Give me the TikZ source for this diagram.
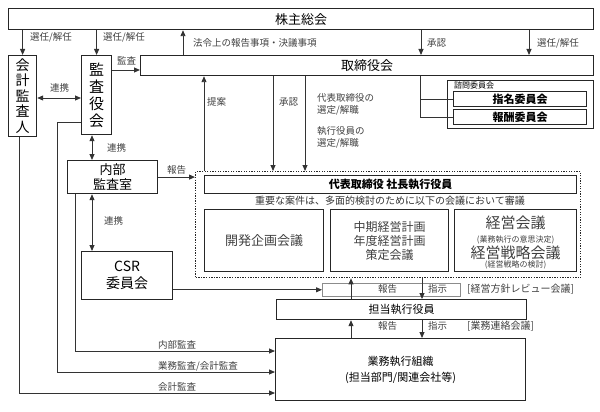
\documentclass[tikz,border=0pt]{standalone}
\usepackage{fontspec}
\setmainfont{Noto Sans CJK JP}
\usetikzlibrary{arrows.meta,calc}
\begin{document}
\begin{tikzpicture}[x=1pt,y=-1pt,
 box/.style={draw=black!85,line width=1.2pt,inner sep=0pt,anchor=north west,align=center},
 lbl/.style={text=black!75,font=\fontsize{9.5}{11}\selectfont,inner sep=0pt,anchor=west},
 arr/.style={draw=black!80,line width=0.9pt,-{Triangle[length=6pt,width=5pt]}},
 dbl/.style={draw=black!80,line width=0.9pt,{Triangle[length=6pt,width=5pt]}-{Triangle[length=6pt,width=5pt]}},
 ln/.style={draw=black!80,line width=0.9pt}]
\useasboundingbox (0,0) rectangle (600,412);
% helper coordinates
\foreach \n/\v in {19/19,57/57,75/75,92/92,183/183,204/204,273/273,305/305,351/351,420/420,421/421,422/422,529/529}{\coordinate (x\n) at (\v,0);}
\foreach \n/\v in {70/70,98/98,122/122,351/351,372/372,393/393}{\coordinate (y\n) at (0,\v);}
% boxes
\node[box,minimum width=585,minimum height=21,font=\fontsize{13}{14}\selectfont] (kabu) at (8,8) {株主総会};
\node[box,minimum width=28,minimum height=81,font=\fontsize{14}{15.5}\selectfont] (kaikei) at (8,55) {会\\計\\監\\査\\人};
\node[box,minimum width=30,minimum height=79,font=\fontsize{15}{17}\selectfont] (kansa) at (81,55) {監\\査\\役\\会};
\node[box,minimum width=453,minimum height=20,font=\fontsize{13}{14}\selectfont] (tori) at (140,55) {取締役会};
\node[box,line width=1pt,minimum width=146,minimum height=48] (shimon) at (447,80) {};
\node[anchor=west,inner sep=0pt,font=\fontsize{8}{9}\selectfont] (shimonl) at (454,85) {諮問委員会};
\node[box,minimum width=133,minimum height=15,font=\bfseries\fontsize{11}{12}\selectfont] (shimei) at (453,91) {指名委員会};
\node[box,minimum width=133,minimum height=15,font=\bfseries\fontsize{11}{12}\selectfont] (hoshu) at (453,109) {報酬委員会};
\node[box,minimum width=90,minimum height=33,font=\fontsize{13}{15}\selectfont] (naibu) at (67,160) {内部\\監査室};
\node[box,minimum width=91,minimum height=48,font=\fontsize{14}{17}\selectfont] (csr) at (81,251) {CSR\\委員会};
\node[box,draw=black!85,line width=1.3pt,dash pattern=on 1.3pt off 1.3pt,minimum width=385,minimum height=106] (mgmt) at (195,171) {};
\node[box,minimum width=372,minimum height=18,font=\bfseries\fontsize{11}{12}\selectfont] (daihyo) at (204,175) {代表取締役\ 社長執行役員};
\node[text=black!80,inner sep=0pt,font=\fontsize{10}{11}\selectfont] (juyo) at (390,201) {重要な案件は、多面的検討のために以下の会議において審議};
\node[box,minimum width=119,minimum height=62,text=black!75,font=\fontsize{13}{15}\selectfont] (kaihatsu) at (204,209) {開発企画会議};
\node[box,minimum width=118,minimum height=62,text=black!75,font=\fontsize{12}{14}\selectfont] (chuki) at (330,209) {中期経営計画\\年度経営計画\\策定会議};
\node[box,minimum width=122,minimum height=62] (keiei) at (454,209) {};
\node[inner sep=0pt,text=black!75,font=\fontsize{15}{16}\selectfont] (k1) at ($(keiei.north)+(0,14)$) {経営会議};
\node[inner sep=0pt,text=black!75,font=\fontsize{8}{9}\selectfont] (k2) at ($(keiei.north)+(0,31)$) {(業務執行の意思決定)};
\node[inner sep=0pt,text=black!75,font=\fontsize{15}{16}\selectfont] (k3) at ($(keiei.north)+(0,44)$) {経営戦略会議};
\node[inner sep=0pt,text=black!75,font=\fontsize{8}{9}\selectfont] (k4) at ($(keiei.north)+(0,56)$) {(経営戦略の検討)};
\node[box,draw=black!45,line width=0.6pt,minimum width=138,minimum height=13] (review) at (322,283) {};
\node[box,minimum width=250,minimum height=20,font=\fontsize{11}{12}\selectfont] (tanto) at (276,299) {担当執行役員};
\node[box,minimum width=250,minimum height=62,font=\fontsize{11}{16}\selectfont] (gyomu) at (275,338) {業務執行組織\\(担当部門/関連会社等)};
% connectors from shareholders
\draw[arr] (kabu.south -| kaikei) -- (kaikei.north);
\node[lbl] (l1) at (30,37) {選任/解任};
\draw[arr] (kabu.south -| kansa) -- (kansa.north);
\node[lbl] (l2) at (103,37) {選任/解任};
\draw[arr] (tori.north -| x183) -- (kabu.south -| x183);
\node[lbl] (l3) at (193,43) {法令上の報告事項・決議事項};
\draw[arr] (kabu.south -| x421) -- (tori.north -| x421);
\node[lbl] (l4) at (427,43) {承認};
\draw[arr] (kabu.south -| x529) -- (tori.north -| x529);
\node[lbl] (l5) at (537,43) {選任/解任};
% audit links
\draw[dbl] (kaikei.east |- y98) -- (kansa.west |- y98);
\node[lbl] (l6) at (50,88) {連携};
\draw[arr] (kansa.east |- y70) -- (tori.west |- y70);
\node[lbl] (l7) at (117,61) {監査};
% board to management
\draw[arr] (mgmt.north -| x204) -- (tori.south -| x204);
\node[lbl] (l8) at (207,102) {提案};
\draw[arr] (tori.south -| x273) -- (mgmt.north -| x273);
\node[lbl] (l9) at (279,102) {承認};
\draw[arr] (tori.south -| x305) -- (mgmt.north -| x305);
\node[lbl,align=left,font=\fontsize{9.5}{12}\selectfont] (l10) at (317,104) {代表取締役の\\選定/解職};
\node[lbl,align=left,font=\fontsize{9.5}{12}\selectfont] (l11) at (317,137) {執行役員の\\選定/解職};
\draw[ln] (tori.south -| x420) |- (shimei.west);
\draw[ln] (tori.south -| x420) |- (hoshu.west);
% internal audit
\draw[dbl] (kansa.south -| x92) -- (naibu.north -| x92);
\node[lbl] (l12) at (107,148) {連携};
\draw[arr] (naibu.east) -- (mgmt.west |- naibu.east);
\node[lbl] (l13) at (167,170) {報告};
\draw[dbl] (naibu.south -| x92) -- (csr.north -| x92);
\node[lbl] (l14) at (104,221) {連携};
\draw[arr] (csr.east |- review.west) -- (review.west);
% management and executives
\draw[arr] (tanto.north -| x351) -- (mgmt.south -| x351);
\draw[arr] (mgmt.south -| x422) -- (tanto.north -| x422);
\node[lbl] (l15) at (378,289) {報告};
\node[lbl] (l16) at (428,289) {指示};
\node[lbl,font=\fontsize{10}{11}\selectfont] (l17) at (467,289) {[経営方針レビュー会議]};
\draw[arr] (gyomu.north -| x351) -- (tanto.south -| x351);
\draw[arr] (tanto.south -| x422) -- (gyomu.north -| x422);
\node[lbl] (l18) at (378,326) {報告};
\node[lbl] (l19) at (428,326) {指示};
\node[lbl,font=\fontsize{10}{11}\selectfont] (l20) at (467,326) {[業務連絡会議]};
% audit lines to business organisation
\draw[arr] (naibu.south -| x75) |- (gyomu.west |- y351);
\node[lbl] (l21) at (158,345) {内部監査};
\draw[arr] (kansa.west |- y122) -- (x57 |- y122) |- (gyomu.west |- y372);
\node[lbl] (l22) at (158,366) {業務監査/会計監査};
\draw[arr] (kaikei.south -| x19) |- (gyomu.west |- y393);
\node[lbl] (l23) at (158,387) {会計監査};
\end{tikzpicture}
\end{document}
